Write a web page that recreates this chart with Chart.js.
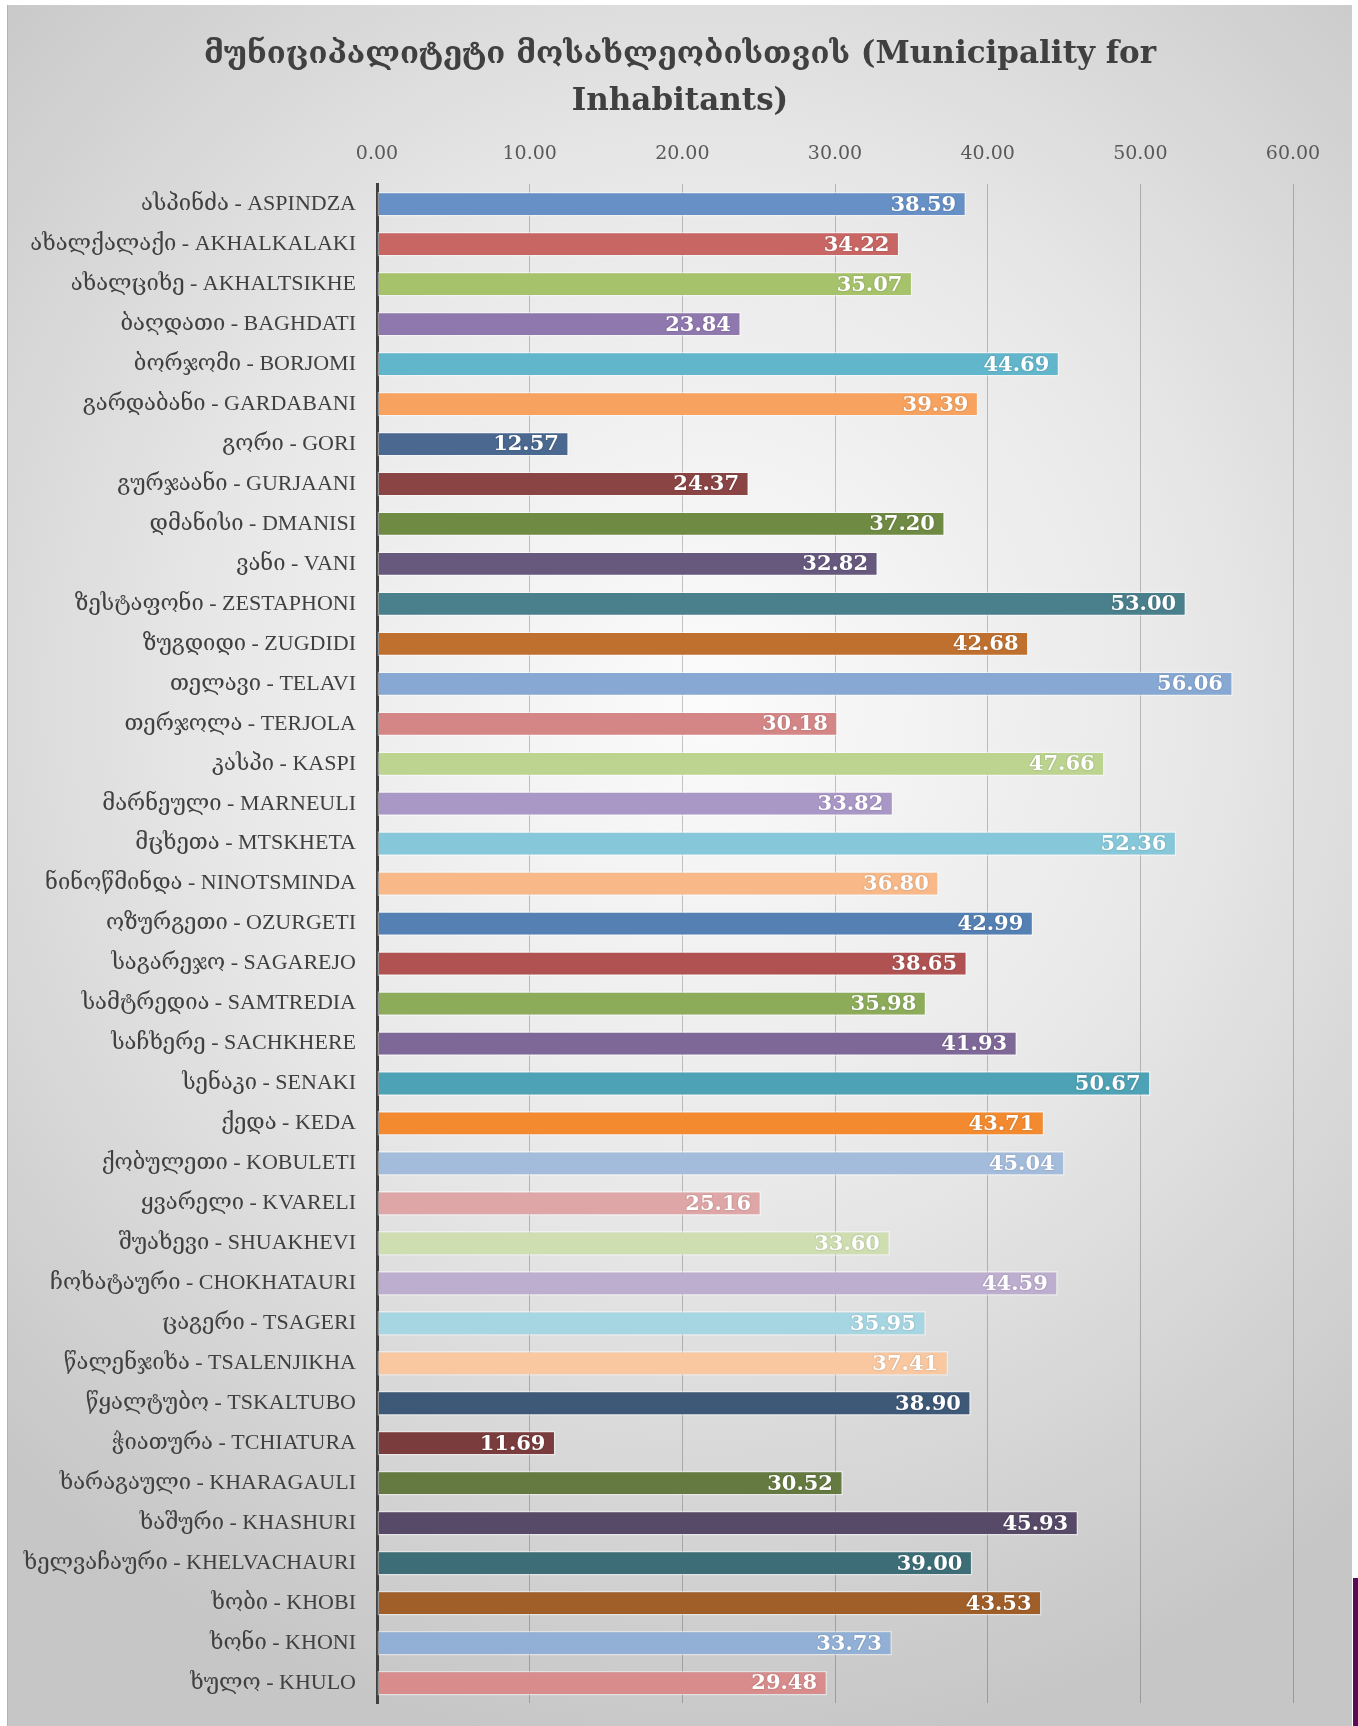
<!DOCTYPE html>
<html>
<head>
<meta charset="utf-8">
<script src="https://cdn.jsdelivr.net/npm/chart.js@4.4.1/dist/chart.umd.min.js"></script>
<style>
  html, body { margin: 0; padding: 0; background: #fff; width: 1358px; height: 1726px; overflow: hidden; }
  .panel {
    position: absolute; left: 8px; top: 5px; width: 1344px; height: 1721px;
    background: radial-gradient(ellipse 75% 62% at 52% 40%, #fbfbfb 0%, #e8e8e8 48%, #c6c6c6 100%);
    box-shadow: -1px 0 0 #b4b4b4;
  }
  .panel canvas { display: block; }
  .corner { position: absolute; left: 1353px; top: 1578px; width: 5px; height: 148px; background: #5b0a55; }
</style>
</head>
<body>
<div class="panel"><canvas id="chart" width="1344" height="1721"></canvas></div>
<div class="corner"></div>
<script>
// ─── Data ────────────────────────────────────────────────────────
const titleLines = ['მუნიციპალიტეტი მოსახლეობისთვის (Municipality for', 'Inhabitants)'];

const municipalities = [
  'ასპინძა - ASPINDZA', 'ახალქალაქი - AKHALKALAKI', 'ახალციხე - AKHALTSIKHE',
  'ბაღდათი - BAGHDATI', 'ბორჯომი - BORJOMI', 'გარდაბანი - GARDABANI',
  'გორი - GORI', 'გურჯაანი - GURJAANI', 'დმანისი - DMANISI', 'ვანი - VANI',
  'ზესტაფონი - ZESTAPHONI', 'ზუგდიდი - ZUGDIDI', 'თელავი - TELAVI',
  'თერჯოლა - TERJOLA', 'კასპი - KASPI', 'მარნეული - MARNEULI',
  'მცხეთა - MTSKHETA', 'ნინოწმინდა - NINOTSMINDA', 'ოზურგეთი - OZURGETI',
  'საგარეჯო - SAGAREJO', 'სამტრედია - SAMTREDIA', 'საჩხერე - SACHKHERE',
  'სენაკი - SENAKI', 'ქედა - KEDA', 'ქობულეთი - KOBULETI', 'ყვარელი - KVARELI',
  'შუახევი - SHUAKHEVI', 'ჩოხატაური - CHOKHATAURI', 'ცაგერი - TSAGERI',
  'წალენჯიხა - TSALENJIKHA', 'წყალტუბო - TSKALTUBO', 'ჭიათურა - TCHIATURA',
  'ხარაგაული - KHARAGAULI', 'ხაშური - KHASHURI', 'ხელვაჩაური - KHELVACHAURI',
  'ხობი - KHOBI', 'ხონი - KHONI', 'ხულო - KHULO'
];

const scores = [
  38.59, 34.22, 35.07, 23.84, 44.69, 39.39, 12.57, 24.37, 37.20, 32.82,
  53.00, 42.68, 56.06, 30.18, 47.66, 33.82, 52.36, 36.80, 42.99, 38.65,
  35.98, 41.93, 50.67, 43.71, 45.04, 25.16, 33.60, 44.59, 35.95, 37.41,
  38.90, 11.69, 30.52, 45.93, 39.00, 43.53, 33.73, 29.48
];

const barColors = [
  '#6690c6', '#c86664', '#a6c26a', '#8f78ae', '#62b6cc', '#f7a25e',
  '#4a6890', '#8a4444', '#6f8a43', '#67587e', '#4a7f8c', '#c0702e',
  '#87a8d2', '#d48686', '#bcd490', '#a997c6', '#86c8da', '#f8b888',
  '#5580b4', '#b05252', '#8cac5a', '#7e6898', '#4ea2b6', '#f38a30',
  '#a4bcdc', '#dea6a6', '#cfdeb0', '#bdaed0', '#a6d6e2', '#f9c8a0',
  '#3e5878', '#7a3c3c', '#657a40', '#574a68', '#3d6e78', '#a05e28',
  '#92b0d6', '#d88c8c'
];

const xTicks = [0, 10, 20, 30, 40, 50, 60];

const SERIF = '"DejaVu Serif", "DejaVu Sans", serif';
const LABEL_FONT = '"Liberation Serif", "DejaVu Serif", serif';

// ─── Value labels inside bar ends ────────────────────────────────
const valueLabels = {
  id: 'valueLabels',
  afterDraw(chart) {
    const { ctx } = chart;
    const meta = chart.getDatasetMeta(0);
    ctx.save();
    ctx.font = 'bold 21px ' + SERIF;
    ctx.fillStyle = '#ffffff';
    ctx.textAlign = 'right';
    ctx.textBaseline = 'middle';
    ctx.shadowColor = 'rgba(0,0,0,0.25)';
    ctx.shadowBlur = 2;
    meta.data.forEach((bar, i) => {
      ctx.fillText(scores[i].toFixed(2), bar.x - 10, bar.y + 1);
    });
    ctx.restore();
  }
};

new Chart(document.getElementById('chart'), {
  type: 'bar',
  data: {
    labels: municipalities,
    datasets: [{
      data: scores,
      backgroundColor: barColors,
      borderColor: 'rgba(255,255,255,0.45)',
      borderWidth: 1.5,
      borderSkipped: false,
      barPercentage: 0.62,
      categoryPercentage: 1
    }]
  },
  options: {
    indexAxis: 'y',
    responsive: false,
    animation: false,
    layout: { padding: { left: 0, right: 0, top: 0, bottom: 23 } },
    plugins: {
      legend: { display: false },
      tooltip: { enabled: false },
      title: {
        display: true,
        text: titleLines,
        color: '#404040',
        font: { family: SERIF, size: 31, weight: 'bold', lineHeight: 1.52 },
        padding: { top: 26, bottom: 15 }
      }
    },
    scales: {
      x: {
        position: 'top',
        min: 0,
        max: 60,
        z: 1,
        afterBuildTicks: s => { s.ticks = xTicks.map(v => ({ value: v })); },
        afterFit: s => { s.height = 44; },
        border: { display: false },
        grid: { color: 'rgba(0,0,0,0.22)', lineWidth: 1, drawTicks: false },
        ticks: {
          padding: 19,
          color: '#595959',
          font: { family: SERIF, size: 19 },
          callback: v => Number(v).toFixed(2)
        }
      },
      y: {
        afterFit: s => { s.width = 369; s.paddingTop = 0; s.paddingBottom = 0; },
        border: { display: true, color: '#404040', width: 3 },
        grid: { display: false, drawTicks: false },
        ticks: {
          padding: 21,
          autoSkip: false,
          color: '#404040',
          font: { family: LABEL_FONT, size: 22 }
        }
      },
      // empty right margin so the plot ends at 60.00 while the title stays centred on the page
      yRight: {
        type: 'category',
        position: 'right',
        afterFit: s => { s.width = 59; s.paddingTop = 0; s.paddingBottom = 0; },
        border: { display: false },
        grid: { display: false, drawTicks: false },
        ticks: { display: false }
      }
    }
  },
  plugins: [valueLabels]
});
</script>
</body>
</html>
